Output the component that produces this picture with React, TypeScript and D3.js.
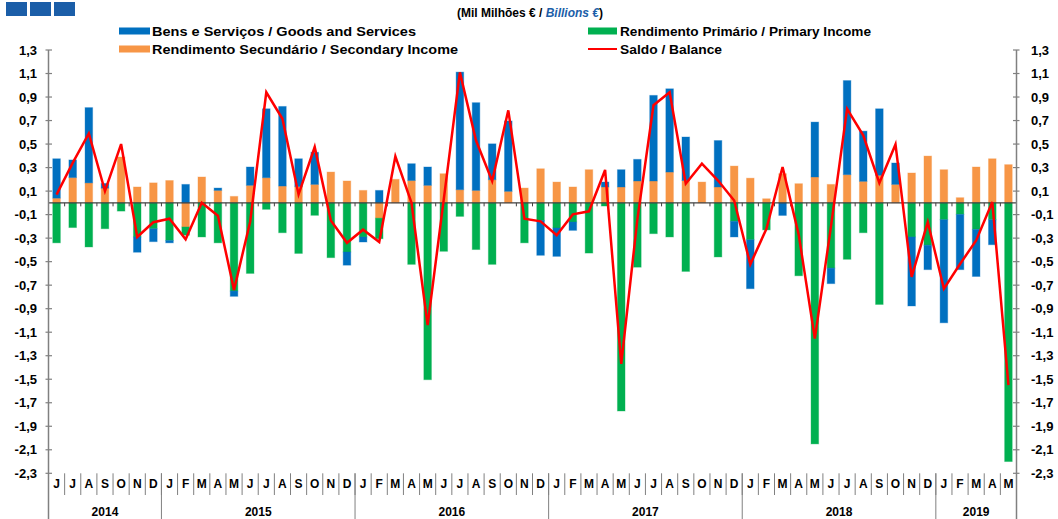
import React from "react";
import * as d3 from "d3";

const months = [
  "J","J","A","S","O","N","D",
  "J","F","M","A","M","J","J","A","S","O","N","D",
  "J","F","M","A","M","J","J","A","S","O","N","D",
  "J","F","M","A","M","J","J","A","S","O","N","D",
  "J","F","M","A","M","J","J","A","S","O","N","D",
  "J","F","M","A","M",
];
const years = ["2014", "2015", "2016", "2017", "2018", "2019"];
const yearCounts = [7, 12, 12, 12, 12, 5];

const goods = [
  0.335, 0.15, 0.64, 0.04, 0, -0.13, -0.11,
  -0.02, 0.157, 0, 0.02, -0.045, 0.156, 0.586, 0.677, 0.237, 0.273, 0, -0.112,
  -0.043, 0.106, 0, 0.143, 0.156, 0, 1.0, 0.746, 0.305, 0.598, 0, -0.296,
  -0.241, -0.071, 0, 0.042, 0.147, 0.184, 0.728, 0.708, 0.37, 0, 0.395, -0.133,
  -0.416, 0, -0.107, 0, 0.467, -0.132, 0.8, 0.427, 0.566, 0.182, -0.587, -0.208,
  -0.877, -0.47, -0.4, -0.213, 0,
];
const primary = [
  -0.34, -0.21, -0.375, -0.22, -0.07, -0.29, -0.22,
  -0.32, -0.07, -0.29, -0.34, -0.75, -0.6, -0.055, -0.254, -0.43, -0.106, -0.466, -0.418,
  -0.29, -0.175, 0, -0.523, -1.504, -0.412, -0.115, -0.397, -0.523, 0, -0.34, -0.15,
  -0.214, -0.163, -0.427, -0.027, -1.77, -0.547, -0.262, -0.29, -0.583, 0, -0.46, -0.157,
  -0.314, -0.23, 0, -0.62, -2.05, -0.555, -0.48, -0.254, -0.864, 0, -0.29, -0.36,
  -0.143, -0.098, -0.226, -0.143, -2.2,
];
const secondary = [
  0.04, 0.215, 0.17, 0.125, 0.39, 0.135, 0.17,
  0.19, -0.205, 0.22, 0.106, 0.055, 0.149, 0.214, 0.143, 0.138, 0.157, 0.262, 0.186,
  0.106, -0.13, 0.2, 0.19, 0.149, 0.248, 0.112, 0.106, 0.197, 0.098, 0.126, 0.29,
  0.177, 0.135, 0.282, 0.135, 0.135, 0.186, 0.186, 0.262, 0.19, 0.177, 0.135, 0.313,
  0.21, 0.035, 0.248, 0.163, 0.22, 0.157, 0.24, 0.183, 0.234, 0.157, 0.254, 0.398,
  0.282, 0.044, 0.305, 0.375, 0.325,
];
const balance = [
  0.07, 0.34, 0.59, 0.1, 0.5, -0.29, -0.165,
  -0.135, -0.31, 0.0, -0.11, -0.74, -0.16, 0.94, 0.715, 0.072, 0.475, -0.149, -0.34,
  -0.228, -0.333, 0.395, 0.0, -1.04, 0.03, 1.11, 0.53, 0.186, 0.787, -0.135, -0.157,
  -0.276, -0.098, -0.072, 0.28, -1.37, -0.14, 0.83, 0.94, 0.163, 0.333, 0.19, 0.02,
  -0.523, -0.22, 0.305, -0.27, -1.155, -0.2, 0.8, 0.574, 0.169, 0.497, -0.63, -0.163,
  -0.73, -0.52, -0.32, 0.007, -1.55,
];
const yTicks = [1.3, 1.1, 0.9, 0.7, 0.5, 0.3, 0.1, -0.1, -0.3, -0.5, -0.7, -0.9, -1.1, -1.3, -1.5, -1.7, -1.9, -2.1, -2.3];

const seriesKeys = ["secondary", "primary", "goods"];
const seriesColors: Record<string, string> = {
  goods: "#0070C0",
  primary: "#00B050",
  secondary: "#F79646",
};

const FONT = "'Liberation Sans', Arial, sans-serif";
const W = 1058;
const H = 519;
const X0 = 48.5;
const X1 = 1016.5;
const YTOP = 50;
const YBOT = 473.3;

export default function App() {
  const n = months.length;
  const idx = d3.range(n);
  const x = d3
    .scaleBand<number>()
    .domain(idx)
    .range([X0, X1])
    .paddingInner(0.53)
    .paddingOuter(0.265);
  const step = x.step();
  const y = d3.scaleLinear().domain([-2.3, 1.3]).range([YBOT, YTOP]);

  const rows = idx.map((i) => ({
    i,
    goods: goods[i],
    primary: primary[i],
    secondary: secondary[i],
  }));
  const stacked = d3
    .stack<any>()
    .keys(seriesKeys)
    .offset(d3.stackOffsetDiverging)(rows);

  const line = d3
    .line<number>()
    .x((_, i) => (x(i) as number) + x.bandwidth() / 2)
    .y((d) => y(d));

  const boundary = (i: number) => X0 + step * i;
  const yearStarts: number[] = [];
  let acc = 0;
  yearCounts.forEach((c) => {
    yearStarts.push(acc);
    acc += c;
  });
  const fmt = (v: number) => v.toFixed(1).replace(".", ",");
  const y0 = y(0);

  return (
    <svg
      width={W}
      height={H}
      style={{ position: "absolute", left: 0, top: 0, display: "block", background: "#fff" }}
      fontFamily={FONT}
    >
      {/* top-left blue squares */}
      {[6, 30, 54].map((sx) => (
        <rect key={sx} x={sx} y={2} width={21} height={14} fill="#1B5EA8" />
      ))}
      {/* title */}
      <text x={457} y={17} fontSize={12} fontWeight="bold" fill="#000">
        (Mil Milhões € /{" "}
        <tspan fill="#1B5EA8" fontStyle="italic">Billions  €</tspan>
        <tspan fill="#000">)</tspan>
      </text>

      {/* legend */}
      <rect x={119} y={27.5} width={31} height={7} fill={seriesColors.goods} />
      <text x={152} y={35.5} fontSize={13} fontWeight="bold" textLength={264} lengthAdjust="spacingAndGlyphs">
        Bens e Serviços / Goods and Services
      </text>
      <rect x={119} y={45.5} width={31} height={7} fill={seriesColors.secondary} />
      <text x={152} y={53.5} fontSize={13} fontWeight="bold" textLength={306} lengthAdjust="spacingAndGlyphs">
        Rendimento Secundário / Secondary Income
      </text>
      <rect x={588} y={27.5} width={29} height={7} fill={seriesColors.primary} />
      <text x={620} y={35.5} fontSize={13} fontWeight="bold" textLength={251} lengthAdjust="spacingAndGlyphs">
        Rendimento Primário / Primary Income
      </text>
      <line x1={588} x2={617} y1={49} y2={49} stroke="#FF0000" strokeWidth={2} />
      <text x={620} y={53.5} fontSize={13} fontWeight="bold" textLength={102} lengthAdjust="spacingAndGlyphs">
        Saldo / Balance
      </text>

      {/* bars */}
      {stacked.map((s) => (
        <g key={s.key} fill={seriesColors[s.key]}>
          {s.map((d, i) => {
            const top = y(Math.max(d[0], d[1]));
            const bot = y(Math.min(d[0], d[1]));
            const h = bot - top;
            if (h <= 0.01) return null;
            return (
              <rect
                key={i}
                x={x(i)}
                y={top}
                width={x.bandwidth()}
                height={h}
                stroke={seriesColors[s.key]}
                strokeOpacity={0.35}
                strokeWidth={1}
              />
            );
          })}
        </g>
      ))}

      {/* zero line with category ticks */}
      <line x1={X0} x2={X1} y1={y0} y2={y0} stroke="#404040" strokeWidth={1.3} />
      {d3.range(n + 1).map((i) => (
        <line key={i} x1={boundary(i)} x2={boundary(i)} y1={y0} y2={y0 + 3.5} stroke="#404040" strokeWidth={1} />
      ))}

      {/* balance line */}
      <path d={line(balance) || ""} fill="none" stroke="#FF0000" strokeWidth={2.5} strokeLinejoin="miter" />

      {/* left axis */}
      <line x1={X0} x2={X0} y1={YTOP} y2={H} stroke="#808080" strokeWidth={1.5} />
      {yTicks.map((t) => (
        <g key={"l" + t}>
          <line x1={X0 - 3} x2={X0 + 3.5} y1={y(t)} y2={y(t)} stroke="#808080" strokeWidth={1.2} />
          <text x={37} y={y(t)} dy="0.35em" fontSize={13} fontWeight="bold" textAnchor="end">
            {fmt(t)}
          </text>
        </g>
      ))}
      {/* right axis */}
      <line x1={X1} x2={X1} y1={YTOP} y2={H} stroke="#808080" strokeWidth={1.5} />
      {yTicks.map((t) => (
        <g key={"r" + t}>
          <line x1={X1 - 3.5} x2={X1 + 3} y1={y(t)} y2={y(t)} stroke="#808080" strokeWidth={1.2} />
          <text x={1031} y={y(t)} dy="0.35em" fontSize={13} fontWeight="bold" textAnchor="start">
            {fmt(t)}
          </text>
        </g>
      ))}

      {/* bottom category axis */}
      {d3.range(1, n).map((i) => (
        <line key={"s" + i} x1={boundary(i)} x2={boundary(i)} y1={YBOT} y2={495} stroke="#808080" strokeWidth={1} />
      ))}
      {yearStarts.slice(1).map((s) => (
        <line key={"ys" + s} x1={boundary(s)} x2={boundary(s)} y1={YBOT} y2={H} stroke="#808080" strokeWidth={1} />
      ))}
      {months.map((m, i) => (
        <text
          key={"m" + i}
          x={(x(i) as number) + x.bandwidth() / 2}
          y={488}
          fontSize={12}
          fontWeight="bold"
          textAnchor="middle"
        >
          {m}
        </text>
      ))}
      {years.map((yr, k) => (
        <text
          key={yr}
          x={(boundary(yearStarts[k]) + boundary(yearStarts[k] + yearCounts[k])) / 2}
          y={516}
          fontSize={12}
          fontWeight="bold"
          textAnchor="middle"
        >
          {yr}
        </text>
      ))}
    </svg>
  );
}
